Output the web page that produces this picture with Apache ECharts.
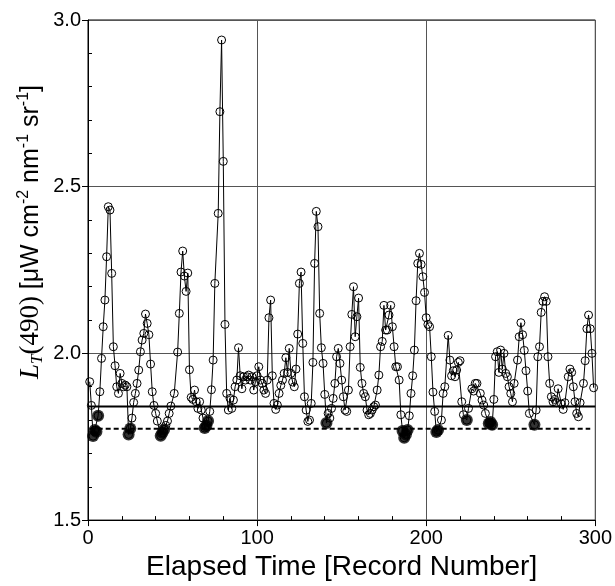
<!DOCTYPE html>
<html><head><meta charset="utf-8">
<script src="https://cdn.jsdelivr.net/npm/echarts@6/dist/echarts.min.js"></script>
<style>html,body{margin:0;padding:0;background:#fff}#c{width:615px;height:586px}</style>
</head><body><div id="c"></div>
<script>
// Record numbers and L_T(490) values
var records = [1,2,3,4,5,6,7,8,9,10,11,12,13,14,15,16,17,18,19,20,21,22,23,24,25,26,
27,28,29,30,31,32,33,34,35,36,37,38,39,40,41,43,44,45,46,47,48,49,51,53,54,55,56,57,58,59,60,61,62,63,64,65,66,67,68,69,70,71,72,73,74,75,77,78,79,80,81,
82,83,84,85,86,87,88,89,90,91,92,93,94,95,96,97,98,99,100,101,
102,103,104,105,106,107,108,109,110,111,112,113,114,115,116,117,118,119,120,121,122,123,124,125,126,127,128,129,130,131,132,133,134,135,136,137,138,139,140,
141,142,143,144,145,146,147,148,149,150,151,152,153,154,155,156,157,158,159,160,161,162,163,164,165,166,167,168,169,170,171,172,173,174,175,176,177,178,179,180,181,182,183,184,185,186,187,188,189,190,191,192,193,194,195,196,197,198,199,200,201,202,203,204,205,206,207,
209,210,211,213,214,215,216,217,218,219,220,221,222,224,225,227,228,229,230,232,233,234,235,237,238,239,240,241,242,243,244,245,246,247,248,249,250,251,252,254,255,256,257,258,259,260,261,264,265,266,267,268,269,270,271,272,273,274,275,276,277,278,280,281,282,284,285,286,287,288,289,290,291,293,294,295,296,297,298,299];
var values = [1.915,1.844,1.752,1.77,1.765,1.813,1.885,1.985,2.08,2.16,2.29,2.44,2.43,2.24,2.02,1.963,1.90,1.88,1.94,1.91,1.90,1.905,1.90,1.757,1.775,1.806,
1.853,1.88,1.91,1.95,2.005,2.04,2.06,2.118,2.09,2.056,1.968,1.885,1.844,1.82,1.797,1.753,1.762,1.772,1.784,1.797,1.82,1.842,1.88,2.004,2.12,2.244,2.307,2.232,2.186,2.241,1.951,1.868,1.862,1.89,1.855,1.835,1.855,1.83,1.806,1.776,1.783,1.797,1.826,1.891,1.98,2.21,2.42,2.725,2.94,2.576,2.087,
1.88,1.83,1.865,1.835,1.86,1.90,1.92,2.017,1.933,1.894,1.93,1.92,1.93,1.935,1.92,1.93,1.89,1.915,1.933,1.96,
1.92,1.91,1.89,1.88,1.92,2.107,2.16,1.933,1.85,1.832,1.845,1.88,1.904,1.92,1.94,1.987,1.943,2.015,1.94,1.914,1.90,1.953,2.058,2.21,2.244,2.03,1.87,1.83,1.796,1.80,1.85,1.973,2.27,2.426,2.38,2.12,2.017,1.97,1.877,
1.791,1.82,1.806,1.835,1.865,1.91,1.99,2.015,1.97,1.92,1.87,1.83,1.826,1.89,2.02,2.117,2.20,2.05,2.11,2.166,1.958,1.91,1.88,1.87,1.83,1.816,1.82,1.83,1.84,1.845,1.89,1.935,2.02,2.036,2.144,2.07,2.07,2.115,2.144,2.08,2.02,1.96,1.96,1.92,1.816,1.767,1.747,1.757,1.77,1.813,1.88,1.933,2.01,2.158,2.27,2.30,2.267,2.23,2.183,2.107,2.087,2.08,1.99,1.884,1.826,1.764,1.77,
1.80,1.88,1.90,2.054,1.98,1.933,1.948,1.93,1.95,1.973,1.978,1.855,1.816,1.80,1.835,1.894,1.887,1.91,1.91,1.88,1.86,1.845,1.82,1.79,1.794,1.786,1.862,1.99,2.005,1.943,2.01,1.953,2.0,1.94,1.93,1.90,1.88,1.855,1.91,1.98,2.05,2.092,2.056,2.009,1.948,1.887,1.82,1.786,1.83,1.99,2.02,2.123,2.156,2.17,2.156,1.99,1.91,1.87,1.855,1.862,1.852,1.894,1.848,1.832,1.852,1.93,1.953,1.943,1.90,1.855,1.82,1.81,1.852,1.91,1.978,2.074,2.115,2.074,2.0,1.897];
// Records drawn as filled circles
var filledRecords = [3,4,5,6,24,25,43,44,45,69,70,71,141,186,187,188,189,206,207,224,237,238,239,264];
// Horizontal reference levels
var solidLevel = 1.841;
var solidSpan = [0, 300];
var dashedLevel = 1.774;
var dashedSpan = [1, 297];
// Axis ticks
var xTicks = [0, 100, 200, 300];
var yTicks = [1.5, 2.0, 2.5, 3.0];

var mainData = records.map(function(r, i){ return [r, values[i]]; });
var filledData = filledRecords.map(function(r){ return [r, values[records.indexOf(r)]]; });

var sans = 'Liberation Sans';
var chart = echarts.init(document.getElementById('c'), null, {renderer:'canvas'});
chart.setOption({
  animation: false,
  backgroundColor: '#fff',
  grid: {left: 88, right: 17, top: 20, bottom: 57, show: true, borderColor: '#000', borderWidth: 1},
  xAxis: {
    type: 'value', min: xTicks[0], max: xTicks[xTicks.length-1], interval: 100,
    axisLine: {lineStyle: {color: '#000', width: 1}},
    axisTick: {length: 6, lineStyle: {color: '#000'}},
    minorTick: {show: true, splitNumber: 5, length: -4, lineStyle: {color: '#000'}},
    splitLine: {show: true, lineStyle: {color: '#555', width: 1}},
    axisLabel: {fontSize: 20, fontFamily: sans, color: '#000', margin: 8},
    name: 'Elapsed Time [Record Number]', nameLocation: 'middle', nameGap: 27,
    nameTextStyle: {fontSize: 28, fontFamily: sans, color: '#000'}
  },
  yAxis: {
    type: 'value', min: yTicks[0], max: yTicks[yTicks.length-1], interval: 0.5,
    axisLine: {lineStyle: {color: '#000', width: 1}},
    axisTick: {length: 6, lineStyle: {color: '#000'}},
    minorTick: {show: true, splitNumber: 5, length: -4, lineStyle: {color: '#000'}},
    splitLine: {show: true, lineStyle: {color: '#555', width: 1}},
    axisLabel: {fontSize: 20, fontFamily: sans, color: '#000', margin: 7,
      formatter: function(v){ return v.toFixed(1); }}
  },
  graphic: [{
    type: 'text', x: 31, y: 232, rotation: Math.PI/2,
    style: {
      text: '{it|L}{sub|T}{sf|(490) }{s|[μW cm}{sup|-2}{s| nm}{sup|-1}{s| sr}{sup|-1}{s|]}',
      align: 'center', verticalAlign: 'middle', fill: '#000',
      rich: {
        it: {fontFamily: 'Liberation Serif', fontStyle: 'italic', fontSize: 27, fill: '#000', lineHeight: 30},
        sub: {fontFamily: 'Liberation Serif', fontStyle: 'italic', fontSize: 17, fill: '#000', verticalAlign: 'bottom', lineHeight: 30},
        sf: {fontFamily: 'Liberation Serif', fontSize: 27, fill: '#000', lineHeight: 30},
        s: {fontFamily: sans, fontSize: 25, fill: '#000', lineHeight: 30},
        sup: {fontFamily: sans, fontSize: 16, fill: '#000', verticalAlign: 'top', lineHeight: 30}
      }
    }
  }],
  series: [
    {type: 'line', data: mainData, symbol: 'circle', symbolSize: 8, z: 3,
     itemStyle: {color: 'rgba(0,0,0,0)', borderColor: '#000', borderWidth: 1},
     lineStyle: {color: '#000', width: 1}},
    {type: 'scatter', data: filledData, symbol: 'circle', symbolSize: 12, z: 4,
     itemStyle: {color: '#000'}},
    {type: 'line', data: [[solidSpan[0], solidLevel], [solidSpan[1], solidLevel]], symbol: 'none', z: 5,
     lineStyle: {color: '#000', width: 2}},
    {type: 'line', data: [[dashedSpan[0], dashedLevel], [dashedSpan[1], dashedLevel]], symbol: 'none', z: 5,
     lineStyle: {color: '#000', width: 2, type: [5, 3]}}
  ]
});
</script></body></html>
